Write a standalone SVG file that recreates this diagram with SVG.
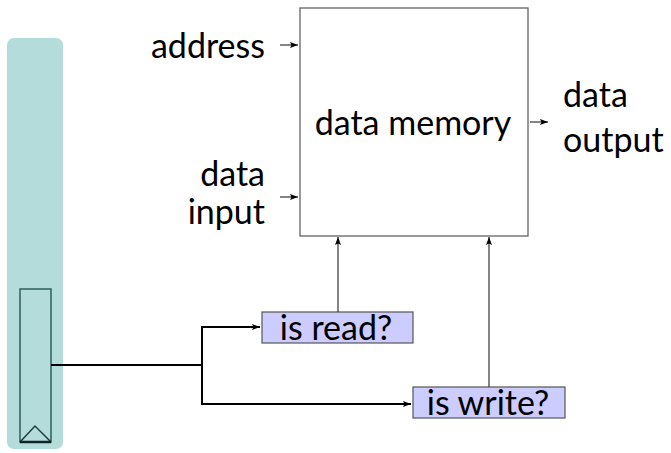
<svg xmlns="http://www.w3.org/2000/svg" width="671" height="453" viewBox="0 0 671 453">
<defs>
<style>
text{font-family:Lato,"DejaVu Sans",sans-serif;font-size:34px;fill:#000}
.thin{stroke:#333;stroke-width:1.2;fill:none}
.thick{stroke:#000;stroke-width:2;fill:none}
.lbl{fill:#ccccff;stroke:#555;stroke-width:1.2}
</style>
<marker id="ah" viewBox="0 0 8 6" refX="8" refY="3" markerWidth="8" markerHeight="6" markerUnits="userSpaceOnUse" orient="auto">
<path d="M0,0 L8,3 L0,6 L1.5,3 Z" fill="#000"/>
</marker>
</defs>
<g id="pipeline">
<rect x="7" y="38" width="56" height="411" rx="7" fill="#b3dcdb"/>
<rect x="20" y="289" width="31" height="153" fill="none" stroke="#2e5e5b" stroke-width="1.5"/>
<path d="M20,442 L35,426 L51,442" fill="none" stroke="#1e3e3c" stroke-width="1.5"/>
<line x1="20" y1="442" x2="51" y2="442" stroke="#0e2624" stroke-width="2.5"/>
</g>
<g id="memory">
<rect x="300" y="8" width="228" height="228" fill="#fff" stroke="#555" stroke-width="1.2"/>
<text x="413" y="135" text-anchor="middle">data memory</text>
</g>
<g id="address"><text x="265" y="58" text-anchor="end">address</text></g>
<g id="datainput"><text x="265" y="186" text-anchor="end">data</text><text x="265" y="224" text-anchor="end">input</text></g>
<g id="dataoutput"><text x="563" y="107">data</text><text x="563" y="152">output</text></g>
<g id="isread"><rect class="lbl" x="262" y="312" width="151" height="31"/><text x="336" y="340" text-anchor="middle">is read?</text></g>
<g id="iswrite"><rect class="lbl" x="413" y="387" width="152" height="31"/><text x="488" y="415" text-anchor="middle">is write?</text></g>
<g id="connectors">
<line x1="280" y1="45" x2="298" y2="45" class="thin" marker-end="url(#ah)"/>
<line x1="280" y1="197" x2="298" y2="197" class="thin" marker-end="url(#ah)"/>
<line x1="530" y1="122" x2="548" y2="122" class="thin" marker-end="url(#ah)"/>
<line x1="338" y1="312" x2="338" y2="237" class="thin" marker-end="url(#ah)"/>
<line x1="489" y1="387" x2="489" y2="237" class="thin" marker-end="url(#ah)"/>
<polyline points="51,365 202,365" class="thick"/>
<polyline points="202,404 202,327 260,327" class="thick" marker-end="url(#ah)"/>
<polyline points="202,365 202,404 411,404" class="thick" marker-end="url(#ah)"/>
</g>
</svg>
